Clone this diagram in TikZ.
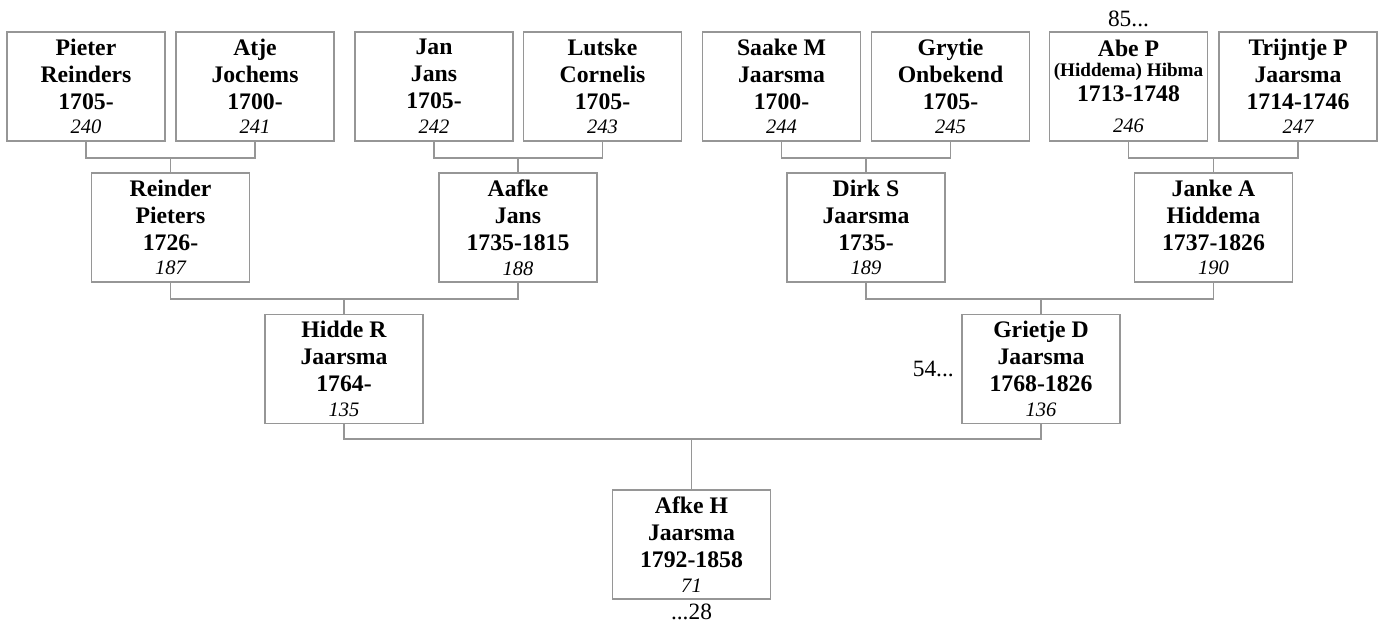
\documentclass[tikz,border=0pt]{standalone}
\usepackage{fontspec}
\setmainfont{Liberation Serif}
\usepackage{xcolor}
\usetikzlibrary{positioning, calc}
\definecolor{boxgray}{RGB}{150, 150, 150}
\tikzset{
    person/.style={draw=boxgray, line width=1pt, fill=white,
                   minimum width=3.16cm, minimum height=2.18cm,
                   align=center, inner sep=1pt,
                   font=\fontsize{13.5}{15.3}\selectfont\bfseries},
    link/.style  ={draw=boxgray, line width=1pt},
    more/.style  ={font=\fontsize{13.3}{15}\selectfont, inner sep=1pt}
}
\newcommand{\refnr}[1]{\\[-1.2pt]{\fontsize{11.7}{13}\selectfont\mdseries\itshape #1}}

\begin{document}
\begin{tikzpicture}[x=0.02cm, y=-0.02cm]
  \useasboundingbox (0,0) rectangle (1380,628);
  % generation 4
  \node[person] (pieter)   at (86,86.5)    {Pieter\\Reinders\\1705-\refnr{240}};
  \node[person] (atje)     at (255,86.5)   {Atje\\Jochems\\1700-\refnr{241}};
  \node[person] (jan)      at (434,86.5)   {Jan\\Jans\\1705-\refnr{242}};
  \node[person] (lutske)   at (602.5,86.5) {Lutske\\Cornelis\\1705-\refnr{243}};
  \node[person] (saake)    at (781.5,86.5) {Saake M\\Jaarsma\\1700-\refnr{244}};
  \node[person] (grytie)   at (950.5,86.5) {Grytie\\Onbekend\\1705-\refnr{245}};
  \node[person] (abe)      at (1128.5,86.5) {Abe P\\[-4pt]{\fontsize{10.9}{12}\selectfont (Hiddema) Hibma}\\[-1pt]1713-1748\\[2pt]{\fontsize{11.7}{13}\selectfont\mdseries\itshape 246}};
  \node[person] (trijntje) at (1298,86.5)  {Trijntje P\\Jaarsma\\1714-1746\refnr{247}};
  \node[more, above=1pt of abe] (abemore) {85...};

  % generation 3
  \node[person] (reinder) at (170.5,227.5)  {Reinder\\Pieters\\1726-\refnr{187}};
  \node[person] (aafke)   at (518,227.5)    {Aafke\\Jans\\1735-1815\refnr{188}};
  \node[person] (dirk)    at (866,227.5)    {Dirk S\\Jaarsma\\1735-\refnr{189}};
  \node[person] (janke)   at (1213.5,227.5) {Janke A\\Hiddema\\1737-1826\refnr{190}};

  % generation 2
  \node[person] (hidde)   at (344,369)  {Hidde R\\Jaarsma\\1764-\refnr{135}};
  \node[person] (grietje) at (1041,369) {Grietje D\\Jaarsma\\1768-1826\refnr{136}};
  \node[more, left=3pt of grietje] (grietjemore) {54...};

  % generation 1
  \node[person] (afke) at (691.5,544.5) {Afke H\\Jaarsma\\1792-1858\refnr{71}};
  \node[more, below=1pt of afke] (afkemore) {...28};

  % parents -> child
  \draw[link] (pieter.south) -- ++(0,16) coordinate (reinderup) -| (atje.south);
  \draw[link] (reinder.north) -- (reinder.north |- reinderup);
  \draw[link] (jan.south) -- ++(0,16) coordinate (aafkeup) -| (lutske.south);
  \draw[link] (aafke.north) -- (aafke.north |- aafkeup);
  \draw[link] (saake.south) -- ++(0,16) coordinate (dirkup) -| (grytie.south);
  \draw[link] (dirk.north) -- (dirk.north |- dirkup);
  \draw[link] (abe.south) -- ++(0,16) coordinate (jankeup) -| (trijntje.south);
  \draw[link] (janke.north) -- (janke.north |- jankeup);

  \draw[link] (reinder.south) -- ++(0,16) coordinate (hiddeup) -| (aafke.south);
  \draw[link] (hidde.north) -- (hidde.north |- hiddeup);
  \draw[link] (dirk.south) -- ++(0,16) coordinate (grietjeup) -| (janke.south);
  \draw[link] (grietje.north) -- (grietje.north |- grietjeup);

  \draw[link] (hidde.south) -- ++(0,15) coordinate (afkeup) -| (grietje.south);
  \draw[link] (afke.north) -- (afke.north |- afkeup);
\end{tikzpicture}
\end{document}
